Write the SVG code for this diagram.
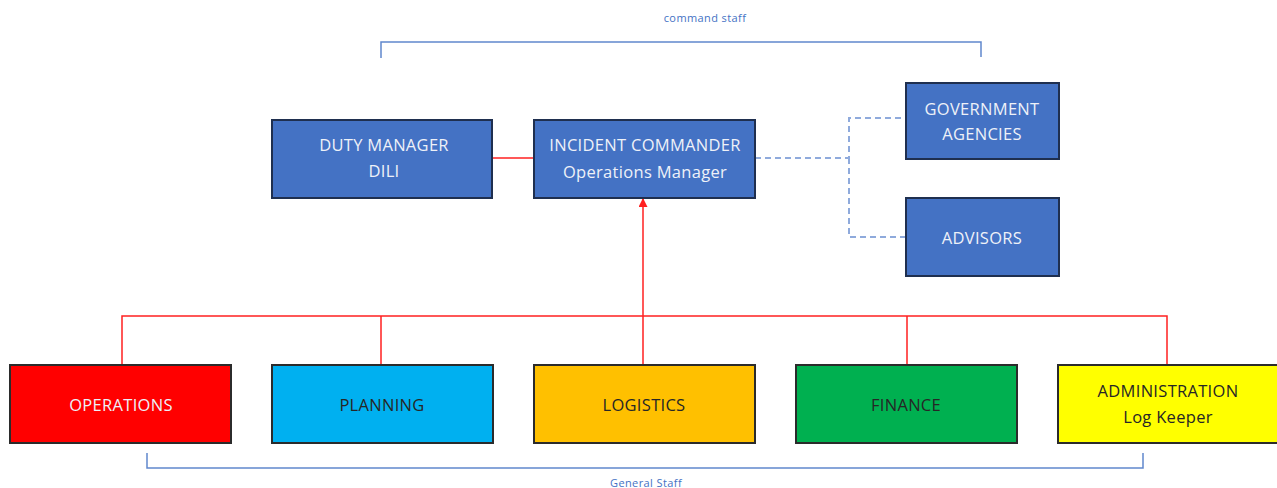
<svg xmlns="http://www.w3.org/2000/svg" width="1277" height="488" viewBox="0 0 1277 488">
  <style>
    .box { stroke: #2b2b2b; stroke-width: 2; }
    .blue { fill: #4472C4; stroke: #1f2f4f; }
    .lbl { font-family: "Open Sans", "Liberation Sans", sans-serif; font-size: 16.5px; font-weight: 500; letter-spacing: 0.3px; text-anchor: middle; }
    .light { fill: #eef1f8; }
    .dark { fill: #262626; }
    .note { font-family: "Open Sans", "Liberation Sans", sans-serif; font-size: 11px; letter-spacing: 0.4px; fill: #4472C4; text-anchor: middle; }
    .bracket { fill: none; stroke: #4472C4; stroke-width: 1.5; opacity: 0.85; }
    .red { fill: none; stroke: #ff2020; stroke-width: 1.5; }
    .dash { fill: none; stroke: #8FAADC; stroke-width: 2; stroke-dasharray: 6 4; }
  </style>
  <defs>
    <marker id="arrowRed" viewBox="0 0 10 10" refX="9" refY="5" markerWidth="10" markerHeight="9" orient="auto" markerUnits="userSpaceOnUse">
      <path d="M0,0 L10,5 L0,10 z" fill="#ff2020"/>
    </marker>
  </defs>
  <rect width="1277" height="488" fill="#ffffff"/>

  <!-- command staff bracket -->
  <g id="command-staff">
    <text class="note" x="705" y="22">command staff</text>
    <path class="bracket" d="M381,58 V42 H981 V57"/>
  </g>

  <!-- connectors -->
  <g id="connectors">
    <line class="red" x1="492" y1="158" x2="534" y2="158"/>
    <path class="dash" d="M755,158 H849 V118 H906 M849,158 V237 H906"/>
    <path class="red" d="M122,365 V316 H1167 V365 M381,316 V365 M643,316 V365 M907,316 V365"/>
    <line class="red" x1="643" y1="316" x2="643" y2="199" marker-end="url(#arrowRed)"/>
  </g>

  <g id="duty-manager">
    <rect class="box blue" x="272" y="120" width="220" height="78"/>
    <text class="lbl light" x="384" y="151">DUTY MANAGER</text>
    <text class="lbl light" x="384" y="177">DILI</text>
  </g>

  <g id="incident-commander">
    <rect class="box blue" x="534" y="120" width="221" height="78"/>
    <text class="lbl light" x="645" y="151">INCIDENT COMMANDER</text>
    <text class="lbl light" x="645" y="178">Operations Manager</text>
  </g>

  <g id="government-agencies">
    <rect class="box blue" x="906" y="83" width="153" height="76"/>
    <text class="lbl light" x="982" y="115">GOVERNMENT</text>
    <text class="lbl light" x="982" y="140">AGENCIES</text>
  </g>

  <g id="advisors">
    <rect class="box blue" x="906" y="198" width="153" height="78"/>
    <text class="lbl light" x="982" y="244">ADVISORS</text>
  </g>

  <g id="operations">
    <rect class="box" x="10" y="365" width="221" height="78" fill="#ff0000" stroke="#6b0000"/>
    <text class="lbl light" x="121" y="411">OPERATIONS</text>
  </g>

  <g id="planning">
    <rect class="box" x="272" y="365" width="221" height="78" fill="#00B0F0" stroke="#1f3f52"/>
    <text class="lbl dark" x="382" y="411">PLANNING</text>
  </g>

  <g id="logistics">
    <rect class="box" x="534" y="365" width="221" height="78" fill="#FFC000" stroke="#4f4a3a"/>
    <text class="lbl dark" x="644" y="411">LOGISTICS</text>
  </g>

  <g id="finance">
    <rect class="box" x="796" y="365" width="221" height="78" fill="#00B050" stroke="#1f3f2a"/>
    <text class="lbl dark" x="906" y="411">FINANCE</text>
  </g>

  <g id="administration">
    <rect class="box" x="1058" y="365" width="221" height="78" fill="#FFFF00" stroke="#3f3f2a"/>
    <text class="lbl dark" x="1168" y="397">ADMINISTRATION</text>
    <text class="lbl dark" x="1168" y="423">Log Keeper</text>
  </g>

  <!-- general staff bracket -->
  <g id="general-staff">
    <path class="bracket" d="M147,453 V468 H1143 V453"/>
    <text class="note" x="646" y="487">General Staff</text>
  </g>
</svg>
